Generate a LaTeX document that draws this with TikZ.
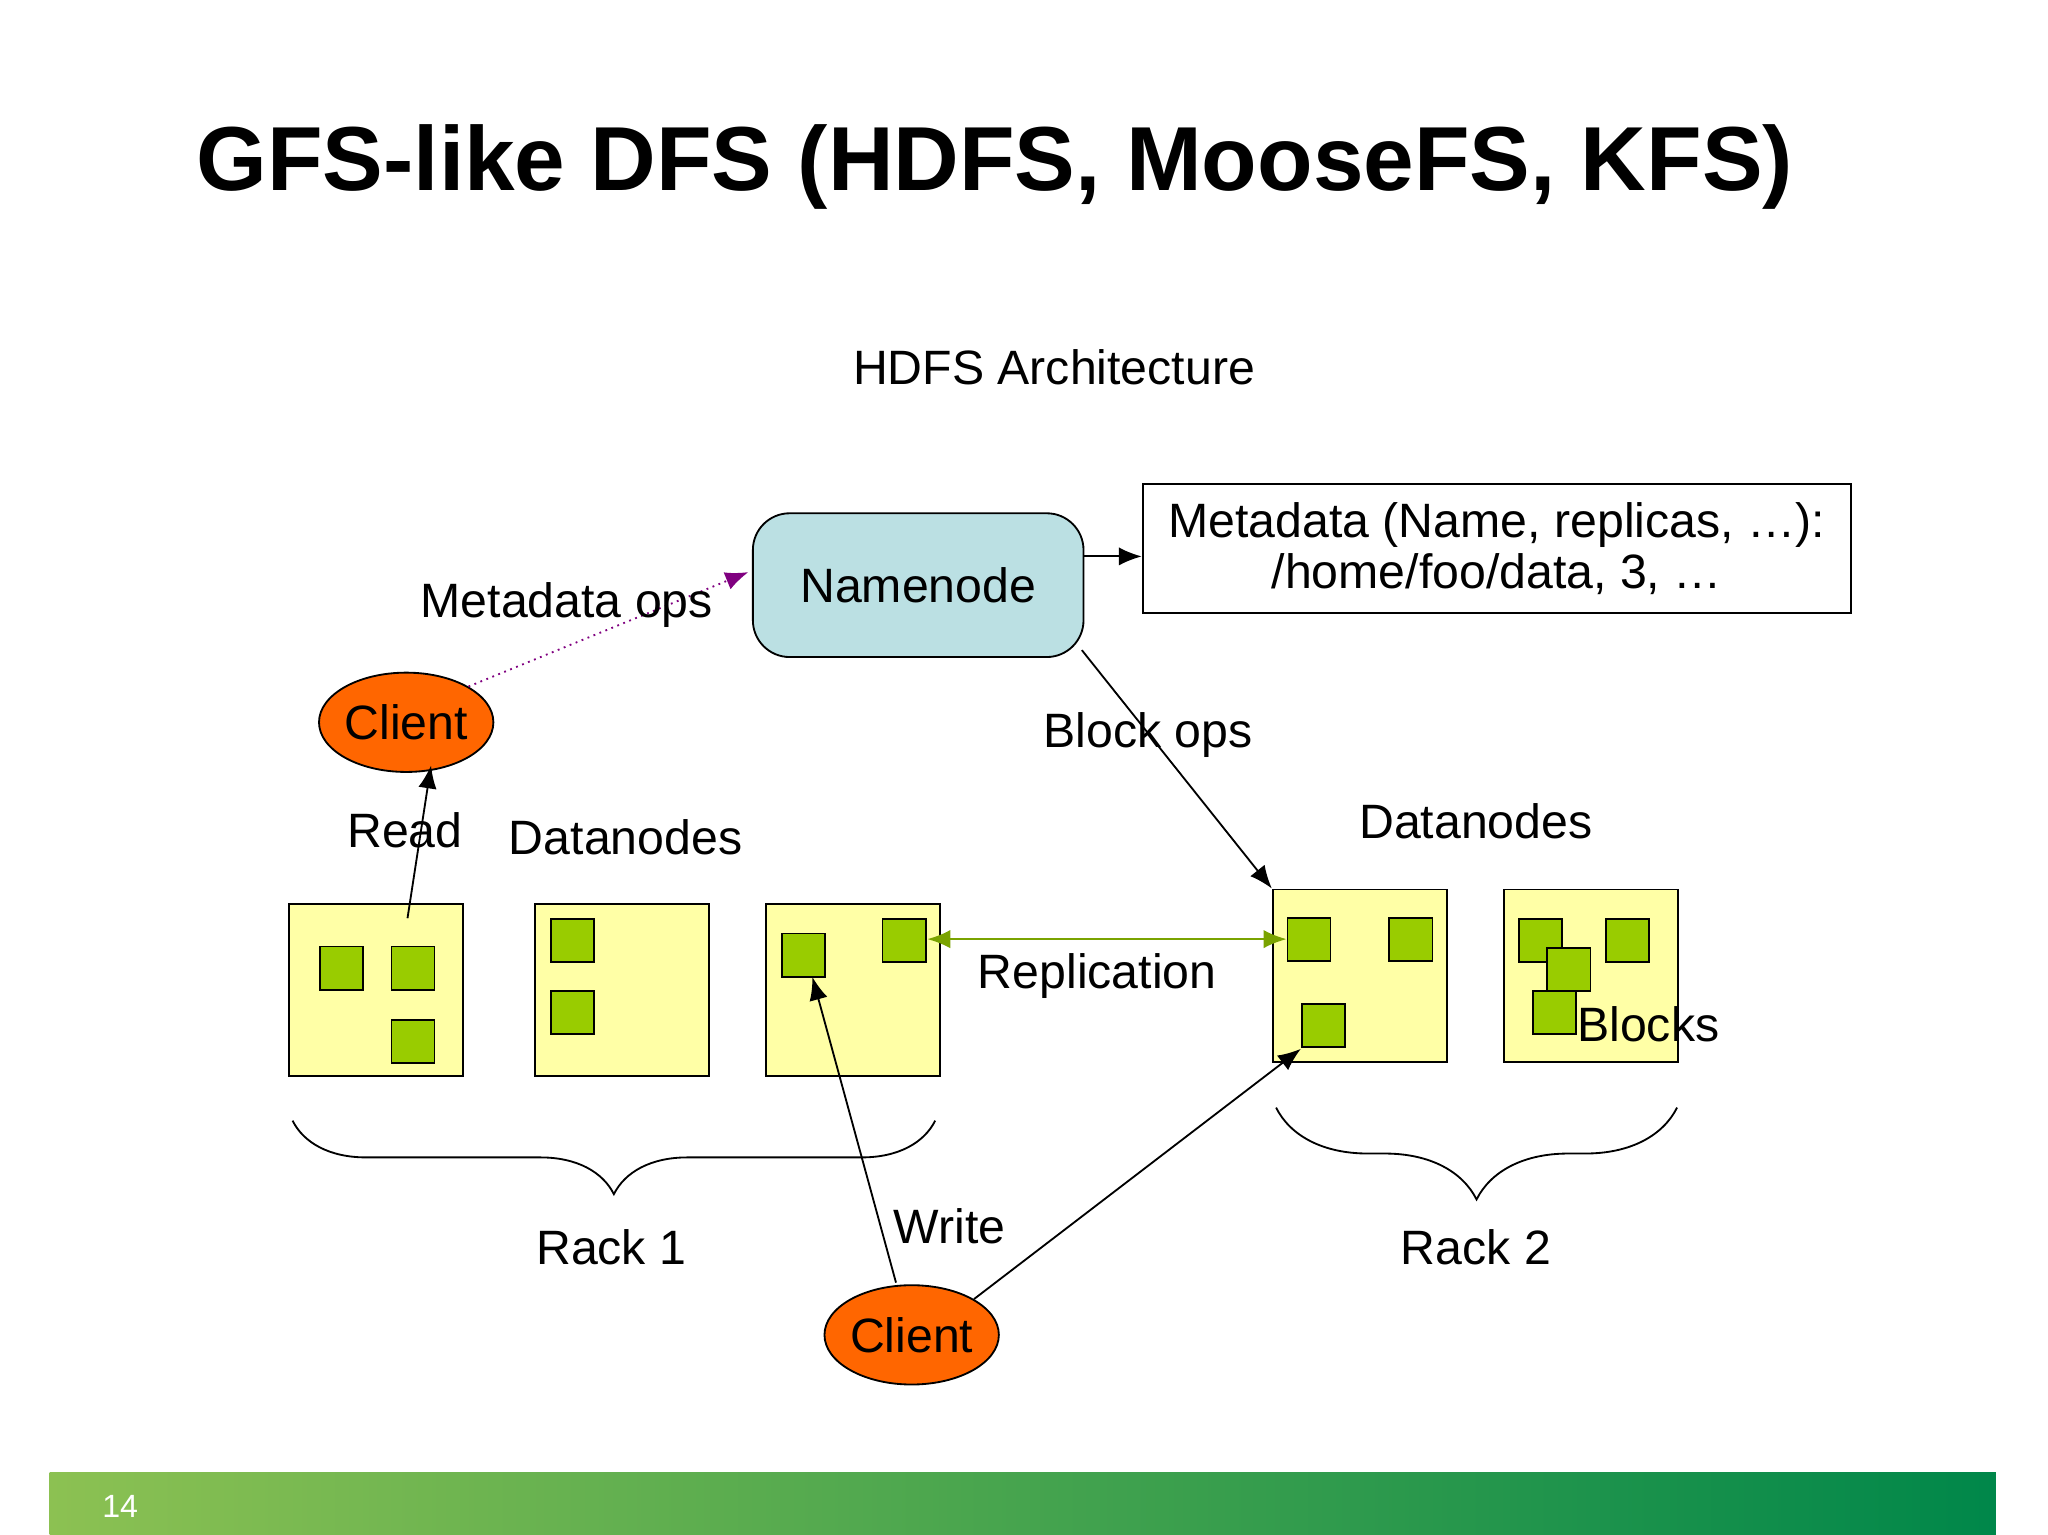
\documentclass[tikz,border=0pt]{standalone}
\usepackage{fontspec}
\setmainfont{Liberation Sans}
\usetikzlibrary{decorations.pathreplacing,arrows.meta,shapes.geometric}
\definecolor{nbl}{HTML}{BBE0E3}
\definecolor{dny}{HTML}{FFFFA6}
\definecolor{blk}{HTML}{99CC00}
\definecolor{cli}{HTML}{FF6600}
\definecolor{gA}{HTML}{8CC152}
\definecolor{gB}{HTML}{00874A}
\begin{document}
\begin{tikzpicture}[x=0.01cm,y=-0.01cm,
  lbl/.style={font=\fontsize{10.5}{12}\selectfont},
  dn/.style={draw,fill=dny,minimum width=1.33cm,minimum height=1.32cm,inner sep=0},
  bk/.style={draw,fill=blk,minimum size=0.33cm,inner sep=0,anchor=north west},
  client/.style={ellipse,draw,fill=cli,minimum width=1.32cm,minimum height=0.76cm,inner sep=0,font=\fontsize{10.5}{12}\selectfont},
  arr/.style={-{Latex[length=5pt,width=4pt]},thin},
  br/.style={decorate,decoration={brace,mirror,amplitude=#1}}]
\useasboundingbox (0,0) rectangle (1568,1175);
\fill[white] (0,0) rectangle (1568,1175);
\node[font=\bfseries\fontsize{19.8}{24}\selectfont,anchor=west] (title) at (138,128) {GFS-like DFS (HDFS, MooseFS, KFS)};
\node[lbl] (arch) at (807,281) {HDFS Architecture};
\node[draw,fill=nbl,rounded corners=8pt,minimum width=2.53cm,minimum height=1.1cm,lbl] (nn) at (703,448) {Namenode};
\node[draw,minimum width=5.42cm,minimum height=0.99cm,lbl,align=center,inner sep=0] (md) at (1146,420) {Metadata (Name, replicas, …):\\[-1pt]/home/foo/data, 3, …};
\draw[arr] (nn.east|-0,426) -- (md.west|-0,426);
\node[client] (c1) at (311,553) {Client};
\draw[arr,densely dotted,violet] (c1.north east) -- (573,438);
\node[lbl] (mops) at (434,463) {Metadata ops};
\node[dn] (d1) at (288,758) {};
\node[dn] (d2) at (476,758) {};
\node[dn] (d3) at (653,758) {};
\node[dn] (d4) at (1041,747) {};
\node[dn] (d5) at (1218,747) {};
\foreach \x/\y in {244/724,299/724,299/780,421/703,421/758,598/714,675/703,985/702,1063/702,996/768,1162/703,1229/703,1184/725,1173/758}
  \node[bk] at (\x,\y) {};
\node[lbl] (read) at (310,636) {Read};
\coordinate (rs) at (312,703);
\coordinate (re) at (330,586);
\draw[arr] (rs) -- (re);
\node[lbl] (dnl1) at (479,641) {Datanodes};
\node[lbl] (dnl2) at (1130,629) {Datanodes};
\draw[{Latex[length=5pt,width=4pt]}-{Latex[length=5pt,width=4pt]},blk!80!black] (710,719) -- (985,719);
\node[lbl] (rep) at (840,747) {Replication};
\draw[arr] (nn.south east) ++(-2,-6) -- (d4.north west);
\node[lbl] (bops) at (879,563) {Block ops};
\node[lbl] (blocks) at (1262,784) {Blocks};
\draw[br=16pt] (224,858) -- (716,858);
\draw[br=20pt] (977,848) -- (1284,848);
\node[lbl] (r1) at (468,955) {Rack 1};
\node[lbl] (r2) at (1130,955) {Rack 2};
\node[client] (c2) at (698,1022) {Client};
\node[lbl] (wr) at (727,939) {Write};
\coordinate (w1) at (622,748);
\coordinate (w2) at (996,803);
\draw[arr] (686,982) -- (w1);
\draw[arr] (c2.north east) -- (w2);
\shade[left color=gA, right color=gB] (38,1127) rectangle (1528,1175);
\node[white,font=\fontsize{7}{8}\selectfont] (pg) at (92,1153) {14};
\end{tikzpicture}
\end{document}
